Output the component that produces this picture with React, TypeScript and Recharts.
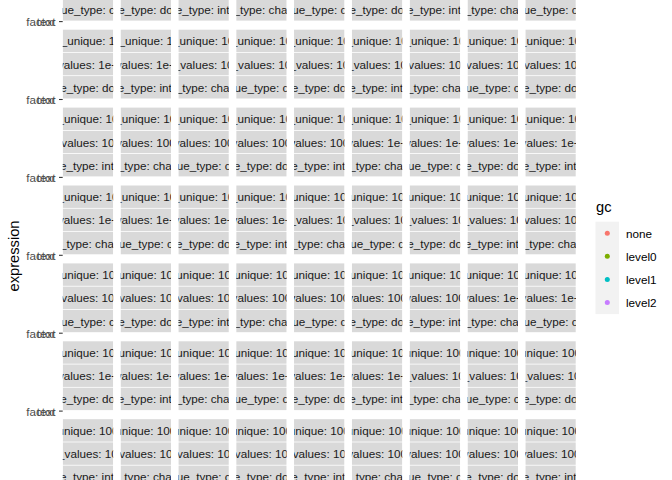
import { ScatterChart, Scatter, XAxis, YAxis, Legend, Customized } from "recharts";

// facet variables (bench::press grid), value_type varies fastest
const valueTypes = ["character", "cplx", "double", "integer"];
const nValues = ["100", "1000", "10000", "1e+05", "1e+06"];
const nUnique = ["10", "100", "1000", "10000"];
const expressions = ["factor", "text"];
const gcLevels = ["none", "level0", "level1", "level2"];
const gcColors = ["#F8766D", "#7CAE00", "#00BFC4", "#C77CFF"];

const facets = nUnique.flatMap((u) =>
  nValues.flatMap((v) => valueTypes.map((t) => ({ u, v, t })))
);

const W = 672;
const H = 480;
const NCOL = 9;
const COL_X0 = 62.7;
const COL_W = 50.5;
const COL_STEP = 57.83;
const STRIP_H = 23.2;
const ROW_STEP = 77.9;
const ROW0_TOP = 29.3 - 2 * ROW_STEP;
const FONT = "'Liberation Sans', Arial, sans-serif";

function FacetLayer() {
  const nRows = Math.ceil(facets.length / NCOL);
  const rows = Array.from({ length: nRows }, (_, r) => r);
  return (
    <g>
      <defs>
        {Array.from({ length: NCOL }, (_, c) => (
          <clipPath id={`col-${c}`} key={c}>
            <rect x={COL_X0 + c * COL_STEP} y={-400} width={COL_W} height={1400} />
          </clipPath>
        ))}
      </defs>
      {facets.map((f, i) => {
        const r = Math.floor(i / NCOL);
        const c = i % NCOL;
        const x = COL_X0 + c * COL_STEP;
        const top = ROW0_TOP + r * ROW_STEP;
        const labels = [`n_unique: ${f.u}`, `n_values: ${f.v}`, `value_type: ${f.t}`];
        return (
          <g key={i} clipPath={`url(#col-${c})`}>
            {labels.map((lab, s) => (
              <g key={s}>
                <rect x={x} y={top + s * STRIP_H + 0.4} width={COL_W} height={STRIP_H - 0.8} fill="#D9D9D9" />
                <text
                  x={x + COL_W / 2}
                  y={top + s * STRIP_H + STRIP_H / 2}
                  textAnchor="middle"
                  dominantBaseline="central"
                  fontFamily={FONT}
                  fontSize={11.7}
                  fill="#1A1A1A"
                >
                  {lab}
                </text>
              </g>
            ))}
          </g>
        );
      })}
      {rows.map((r) => {
        const y = ROW0_TOP + r * ROW_STEP + 3 * STRIP_H + 0.6;
        return (
          <g key={r}>
            {expressions.map((e) => (
              <text
                key={e}
                x={55.5}
                y={y}
                textAnchor="end"
                dominantBaseline="central"
                fontFamily={FONT}
                fontSize={11.7}
                fill="#4D4D4D"
              >
                {e}
              </text>
            ))}
            <line x1={59} x2={COL_X0} y1={y} y2={y} stroke="#333333" strokeWidth={1.07} />
          </g>
        );
      })}
      <text
        x={13.5}
        y={256}
        transform="rotate(-90 13.5 256)"
        textAnchor="middle"
        dominantBaseline="central"
        fontFamily={FONT}
        fontSize={14.67}
        fill="#000"
      >
        expression
      </text>
    </g>
  );
}

function GcLegend() {
  const keyH = 23.1;
  return (
    <svg width={87} height={140} style={{ display: "block" }}>
      <text x={11} y={17} dominantBaseline="central" fontFamily={FONT} fontSize={14.67} fill="#000">
        gc
      </text>
      <rect x={10.5} y={31.7} width={23.5} height={keyH * gcLevels.length} fill="#F2F2F2" />
      {gcLevels.map((g, i) => (
        <g key={g}>
          <circle cx={22.3} cy={31.7 + keyH * i + keyH / 2} r={2.5} fill={gcColors[i]} />
          <text
            x={41}
            y={31.7 + keyH * i + keyH / 2}
            dominantBaseline="central"
            fontFamily={FONT}
            fontSize={11.7}
            fill="#000"
          >
            {g}
          </text>
        </g>
      ))}
    </svg>
  );
}

export default function App() {
  return (
    <div style={{ position: "fixed", left: 0, top: 0, width: W, height: H, background: "#fff" }}>
      <ScatterChart width={W} height={H} margin={{ top: 0, right: 0, bottom: 0, left: 0 }}>
        <XAxis type="number" dataKey="time" hide domain={[0, 1]} />
        <YAxis type="category" dataKey="expression" hide />
        {gcLevels.map((g, i) => (
          <Scatter key={g} name={g} data={[]} fill={gcColors[i]} isAnimationActive={false} />
        ))}
        <Customized component={FacetLayer} />
        <Legend
          content={() => <GcLegend />}
          wrapperStyle={{ position: "absolute", left: 585, top: 190, width: 87, bottom: "auto" }}
        />
      </ScatterChart>
    </div>
  );
}
